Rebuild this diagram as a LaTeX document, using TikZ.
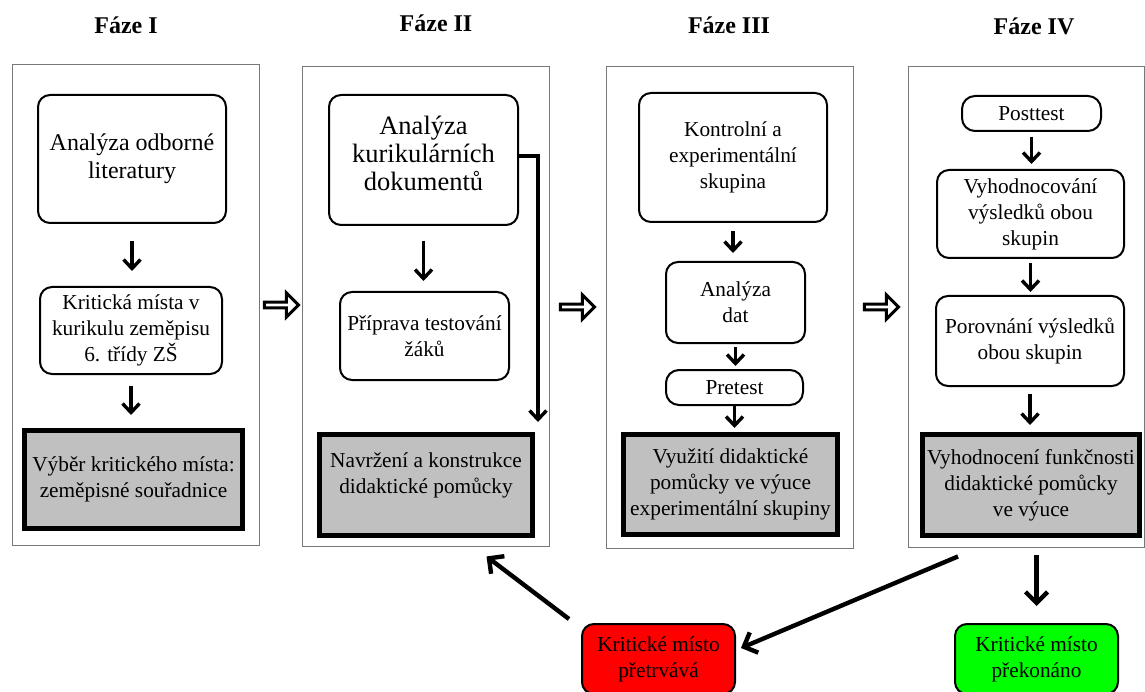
\documentclass[tikz,border=0pt]{standalone}
\usepackage{fontspec}
\setmainfont{Liberation Serif}
\usepackage{tikz}
\usetikzlibrary{calc,arrows.meta,positioning,shapes.arrows}
\definecolor{phaseGray}{RGB}{120,120,120}
\definecolor{outGray}{RGB}{192,192,192}
\definecolor{stayRed}{RGB}{255,0,0}
\definecolor{doneGreen}{RGB}{0,255,0}

\tikzset{
  phase/.style={draw=phaseGray, line width=0.9pt, inner sep=0pt},
  stepbox/.style={draw, line width=2pt, rounded corners=12pt, align=center, inner sep=2pt},
  testbox/.style={draw, line width=2pt, rounded corners=13pt, align=center, inner sep=2pt},
  outbox/.style={draw, fill=outGray, line width=5pt, align=center, inner sep=2pt},
  endbox/.style={draw, line width=2pt, rounded corners=12pt, align=center, inner sep=2pt},
  flow/.style={line width=3.4pt, -{Straight Barb[length=9pt,width=17pt]}},
  backflow/.style={line width=4.4pt, -{Straight Barb[length=11pt,width=22pt]}},
  nextphase/.style={single arrow, draw, line width=3pt, fill=white, minimum height=34pt,
    minimum width=24pt, single arrow head extend=5pt, inner sep=0pt},
  phasetitle/.style={font=\fontsize{24}{28}\selectfont\bfseries}
}

\begin{document}
\begin{tikzpicture}[x=1pt,y=-1pt, font=\fontsize{21.3}{26}\selectfont]
    \useasboundingbox (0,0) rectangle (1145,692);

    % phase panels
    \node[phase, minimum width=247pt, minimum height=481pt] (p1) at (135.5,304.5) {};
    \node[phase, minimum width=247pt, minimum height=480pt] (p2) at (425.5,306) {};
    \node[phase, minimum width=247pt, minimum height=482pt] (p3) at (729.5,307) {};
    \node[phase, minimum width=236pt, minimum height=481pt] (p4) at (1026,306.5) {};

    % titles
    \node[phasetitle] (t1) at (126,25) {Fáze I};
    \node[phasetitle] (t2) at (436,23) {Fáze II};
    \node[phasetitle] (t3) at (729,25) {Fáze III};
    \node[phasetitle] (t4) at (1034,26) {Fáze IV};

    % phase I
    \node[stepbox, minimum width=188pt, minimum height=128pt, font=\fontsize{24}{28}\selectfont] (a1) at (132,159) {Analýza odborné\\literatury};
    \node[stepbox, minimum width=182pt, minimum height=87pt] (a2) at (131,330.5) {Kritická místa v\\kurikulu zeměpisu\\6. třídy ZŠ};
    \node[outbox, minimum width=218pt, minimum height=98pt] (a3) at (133.5,479.5) {Výběr kritického místa:\\zeměpisné souřadnice};
    \draw[flow, shorten <=17pt, shorten >=15pt] (a1) -- (a1 |- a2.north);
    \draw[flow, shorten <=11pt, shorten >=13pt] (a2) -- (a2 |- a3.north);

    % phase II
    \node[stepbox, minimum width=189pt, minimum height=130pt, font=\fontsize{26.5}{28}\selectfont, text depth=14pt] (b1) at (423.5,160) {Analýza\\kurikulárních\\dokumentů};
    \node[stepbox, minimum width=169pt, minimum height=88pt] (b2) at (424.5,336) {Příprava testování\\žáků};
    \node[outbox, minimum width=213pt, minimum height=101pt, text depth=24pt] (b3) at (426,485) {Navržení a konstrukce\\didaktické pomůcky};
    \draw[flow, shorten <=15pt, shorten >=10pt] (b1) -- (b1 |- b2.north);
    \coordinate (bend) at (538,156);
    \draw[flow, shorten >=10pt] ([yshift=4pt]b1.east) -- (bend) -- (bend |- b3.north);

    % phase III
    \node[stepbox, minimum width=188pt, minimum height=129pt] (c1) at (733,157.5) {Kontrolní a\\experimentální\\skupina};
    \node[stepbox, minimum width=139pt, minimum height=81pt] (c2) at (735.5,302.5) {Analýza\\dat};
    \node[testbox, minimum width=137pt, minimum height=35pt] (c3) at (734.5,387.5) {Pretest};
    \node[outbox, minimum width=214pt, minimum height=100pt] (c4) at (730.5,484.5) {Využití didaktické\\pomůcky ve výuce\\experimentální skupiny};
    \draw[flow, shorten <=8pt, shorten >=8pt] (c1) -- (c1 |- c2.north);
    \draw[flow, shorten <=3pt, shorten >=3pt] (c2) -- (c2 |- c3.north);
    \draw[flow, shorten >=4pt] (c3) -- (c3 |- c4.north);

    % phase IV
    \node[testbox, minimum width=139pt, minimum height=35pt] (d1) at (1031.5,113.5) {Posttest};
    \node[stepbox, minimum width=187pt, minimum height=88pt] (d2) at (1030.5,214) {Vyhodnocování\\výsledků obou\\skupin};
    \node[stepbox, minimum width=188pt, minimum height=90pt] (d3) at (1030,341) {Porovnání výsledků\\obou skupin};
    \node[outbox, minimum width=217pt, minimum height=101pt] (d4) at (1031,485) {Vyhodnocení funkčnosti\\didaktické pomůcky\\ve výuce};
    \draw[flow, shorten <=5pt, shorten >=5pt] (d1) -- (d1 |- d2.north);
    \draw[flow, shorten <=4pt, shorten >=3pt] (d2) -- (d2 |- d3.north);
    \draw[flow, shorten <=7pt, shorten >=7pt] (d3) -- (d3 |- d4.north);

    % between phases
    \node[nextphase] (n12) at (280,305) {};
    \node[nextphase] (n23) at (576,307) {};
    \node[nextphase] (n34) at (880,307) {};

    % outcomes
    \node[endbox, fill=stayRed, minimum width=153pt, minimum height=70pt] (stay) at (658.5,659) {Kritické místo\\přetrvává};
    \node[endbox, fill=doneGreen, minimum width=163pt, minimum height=70pt] (done) at (1036.5,659) {Kritické místo\\překonáno};
    \coordinate (fromIV) at ($(p4.south)+(-68,9)$);
    \coordinate (toII) at ($(p2.south)+(61,10)$);
    \draw[backflow] (fromIV) -- ($(stay.east)+(5,-11)$);
    \draw[backflow] ($(stay.north west)+(-12,-4)$) -- (toII);
    \draw[backflow] ($(p4.south -| done)+(0,8)$) -- ($(done.north)+(0,-17)$);
\end{tikzpicture}
\end{document}
